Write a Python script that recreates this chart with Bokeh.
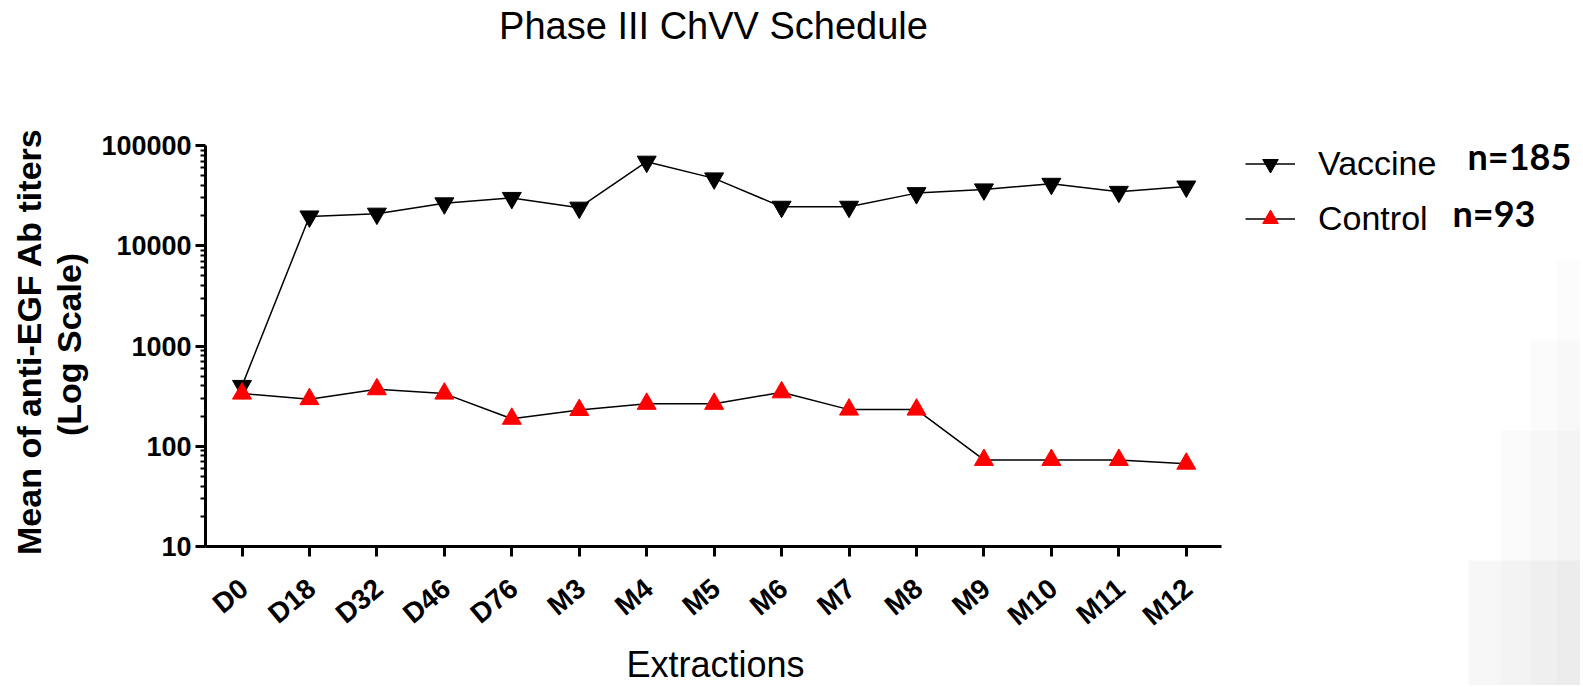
import math
from bokeh.plotting import figure
from bokeh.models import (Range1d, FixedTicker, Legend, LegendItem, Label,
                          ColumnDataSource, BoxAnnotation)
from bokeh.core.properties import value
from bokeh.embed import file_html
from bokeh.resources import INLINE

# ---- data ----
categories = ["D0", "D18", "D32", "D46", "D76", "M3", "M4", "M5", "M6", "M7",
              "M8", "M9", "M10", "M11", "M12"]
vaccine = [400, 19600, 20900, 26500, 30000, 24000, 69000, 47000, 24500, 24500,
           33500, 36500, 41500, 34500, 39000]
control = [335, 295, 370, 335, 188, 230, 265, 265, 345, 232,
           232, 73, 73, 73, 67]
y_ticks = [10, 100, 1000, 10000, 100000]
y_tick_labels = ["10", "100", "1000", "10000", "100000"]
series_names = ["Vaccine", "Control"]
n_labels = ["n=185", "n=93"]
title_text = "Phase III ChVV Schedule"
x_title = "Extractions"
y_title_lines = ["Mean of anti-EGF Ab titers", "(Log Scale)"]

FONT = "Liberation Sans"
W, H = 1580, 685

# ---- layout geometry (pixels from the top-left of the figure) ----
AXIS_Y_PX = 546        # pixel row of the x axis (value 10)
DECADE_PX = 100.25     # pixels per decade
FIRST_CAT_PX = 241.5   # pixel column of the first category
CAT_PX = 67.45         # pixels per category
x_axis_start = -0.541
x_axis_end = 14.52
y_axis_min = 10


def sy(px):
    """pixel row from top -> screen units from bottom"""
    return H - px


x_range = Range1d(-FIRST_CAT_PX / CAT_PX, (W - FIRST_CAT_PX) / CAT_PX)
y_range = Range1d(10 ** (1 - (H - AXIS_Y_PX) / DECADE_PX),
                  10 ** (1 + AXIS_Y_PX / DECADE_PX))

p = figure(width=W, height=H, y_axis_type="log",
           x_range=x_range, y_range=y_range,
           output_backend="svg", toolbar_location=None,
           min_border_left=0, min_border_right=0,
           min_border_top=0, min_border_bottom=0)
p.outline_line_color = None
p.xgrid.visible = False
p.ygrid.visible = False
p.background_fill_color = "white"
p.border_fill_color = "white"

# faint grey shading in the lower-right corner of the slide
for left, top, alpha in [(1468, 560, 0.03), (1500, 430, 0.015),
                         (1530, 340, 0.015), (1556, 260, 0.012)]:
    p.add_layout(BoxAnnotation(left=left, right=W, top=sy(top), bottom=0,
                               left_units="screen", right_units="screen",
                               top_units="screen", bottom_units="screen",
                               fill_color="black", fill_alpha=alpha,
                               line_color=None, level="underlay"))

idx = list(range(len(categories)))
vl = p.line(idx, vaccine, line_color="black", line_width=1.5)
vs = p.scatter(idx, vaccine, marker="inverted_triangle", size=19,
               fill_color="black", line_color="black")
cl = p.line(idx, control, line_color="black", line_width=1.5)
cs = p.scatter(idx, control, marker="triangle", size=19,
               fill_color="#ff0000", line_color="#ff0000")

# x axis (line + ticks); its tick labels are drawn as rotated text below
xa = p.xaxis[0]
xa.fixed_location = y_axis_min
xa.bounds = (x_axis_start, x_axis_end)
xa.ticker = FixedTicker(ticks=idx)
xa.major_label_text_alpha = 0
xa.major_label_text_color = None
xa.axis_line_width = 3
xa.axis_line_color = "black"
xa.major_tick_line_width = 3
xa.major_tick_line_color = "black"
xa.major_tick_out = 10
xa.major_tick_in = 0
xa.minor_tick_line_color = None

tick_src = ColumnDataSource(dict(x=idx, y=[y_axis_min] * len(idx), text=categories))
p.text(x="x", y="y", text="text", source=tick_src,
       angle=math.radians(40), x_offset=2, y_offset=38,
       text_align="right", text_baseline="middle",
       text_font=value(FONT), text_font_style="bold",
       text_font_size=value("28px"), text_color="black")

# y axis
ya = p.yaxis[0]
ya.fixed_location = x_axis_start
ya.bounds = (10, 100000)
minor = [m * 10 ** e for e in range(1, 5) for m in range(2, 10)]
ya.ticker = FixedTicker(ticks=y_ticks, minor_ticks=minor)
ya.major_label_overrides = {t: l for t, l in zip(y_ticks, y_tick_labels)}
ya.major_label_text_font = FONT
ya.major_label_text_font_style = "bold"
ya.major_label_text_font_size = "27px"
ya.major_label_text_color = "black"
ya.axis_line_width = 3
ya.axis_line_color = "black"
ya.major_tick_line_width = 3
ya.major_tick_line_color = "black"
ya.major_tick_out = 10
ya.major_tick_in = 0
ya.minor_tick_line_width = 2
ya.minor_tick_line_color = "black"
ya.minor_tick_out = 5
ya.minor_tick_in = 0
ya.major_label_standoff = 4

# ---- texts ----
p.add_layout(Label(x=713, y=sy(25), x_units="screen", y_units="screen",
                   text=title_text, text_font=FONT, text_font_size="38px",
                   text_align="center", text_baseline="middle",
                   text_color="black"))
p.add_layout(Label(x=715, y=sy(663.5), x_units="screen", y_units="screen",
                   text=x_title, text_font=FONT, text_font_size="36px",
                   text_align="center", text_baseline="middle",
                   text_color="black"))
p.add_layout(Label(x=28.5, y=sy(341), x_units="screen", y_units="screen",
                   angle=math.pi / 2, text=y_title_lines[0], text_font=FONT,
                   text_font_style="bold", text_font_size="34px",
                   text_align="center", text_baseline="middle",
                   text_color="black"))
p.add_layout(Label(x=68, y=sy(344), x_units="screen", y_units="screen",
                   angle=math.pi / 2, text=y_title_lines[1], text_font=FONT,
                   text_font_style="bold", text_font_size="34px",
                   text_align="center", text_baseline="middle",
                   text_color="black"))

legend = Legend(items=[LegendItem(label=series_names[0], renderers=[vl, vs]),
                       LegendItem(label=series_names[1], renderers=[cl, cs])],
                location=(1245, sy(237.5)), glyph_width=50, glyph_height=39,
                label_height=39, spacing=16, padding=0, margin=0,
                label_standoff=23, label_text_font=FONT,
                label_text_font_size="34px", label_text_color="black",
                border_line_color=None, background_fill_alpha=0)
p.add_layout(legend)

p.add_layout(Label(x=1467, y=sy(155), x_units="screen", y_units="screen",
                   text=n_labels[0], text_font="Lato", text_font_style="bold",
                   text_font_size="36px", text_baseline="middle", text_color="black"))
p.add_layout(Label(x=1452, y=sy(212), x_units="screen", y_units="screen",
                   text=n_labels[1], text_font="Lato", text_font_style="bold",
                   text_font_size="36px", text_baseline="middle", text_color="black"))

open("out.html", "w").write(file_html(p, INLINE))
